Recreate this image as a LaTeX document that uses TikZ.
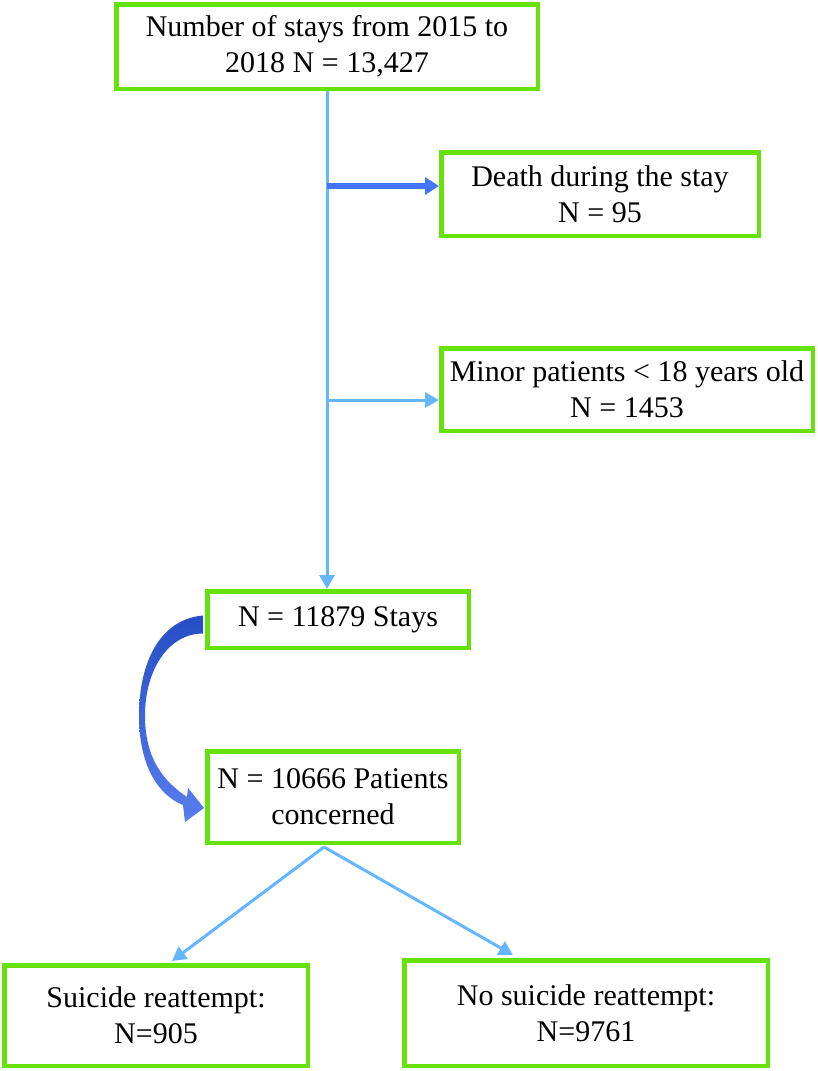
\documentclass[tikz,border=0pt]{standalone}
\usepackage{fontspec}
\setmainfont{Liberation Serif}
\usepackage{xcolor}
\definecolor{boxgreen}{RGB}{102,226,10}
\definecolor{flowblue}{RGB}{100,182,255}
\definecolor{deathblue}{RGB}{66,118,255}
\definecolor{bendblue}{RGB}{45,92,232}
\usepackage{tikz}
\usetikzlibrary{calc,arrows.meta}

\begin{document}
\begin{tikzpicture}[x=1pt, y=-1pt,
            box/.style={draw=boxgreen, line width=4.5pt, fill=white, align=center, inner sep=0pt, font=\fontsize{30}{36}\selectfont},
            flow/.style={draw=flowblue, line width=3pt, -{Triangle[length=14pt,width=15pt]}},
            deathflow/.style={draw=deathblue, line width=6pt, -{Triangle[length=14pt,width=17pt]}}]
            \useasboundingbox (0,0) rectangle (817,1071);

            % Start population
            \node[box, minimum width=421.5pt, minimum height=84.5pt] (stays0) at (327,46.5) {Number of stays from 2015 to\\2018 N = 13,427};

            % Exclusions
            \node[box, minimum width=317.5pt, minimum height=83.5pt] (death) at (600,194) {Death during the stay\\N = 95};
            \node[box, minimum width=371.5pt, minimum height=82.5pt] (minor) at (627,389.5) {Minor patients < 18 years old\\N = 1453};

            % Remaining stays and patients
            \node[box, minimum width=261.5pt, minimum height=56.5pt] (stays) at (338,619.5) {N = 11879 Stays};
            \node[box, minimum width=251.5pt, minimum height=91.5pt] (patients) at (333,797) {N = 10666 Patients\\concerned};

            % Outcome
            \node[box, minimum width=303.5pt, minimum height=100.5pt] (reatt) at (156,1015.5) {Suicide reattempt:\\N=905};
            \node[box, minimum width=363.5pt, minimum height=105.5pt] (noreatt) at (586,1013) {No suicide reattempt:\\N=9761};

            % Main line with exclusion arrows
            \draw[flow] (stays0.south) -- (stays0.south |- stays.north);
            \coordinate (dj) at (327,186);
            \coordinate (mj) at (327,400);
            \draw[deathflow] (dj) -- (dj -| death.west);
            \draw[flow] (mj) -- (mj -| minor.west);

            % Stays to patients
            \shade[top color=bendblue!85!black, bottom color=bendblue!80!white]
                ($(stays.west)+(-2,-4)$) .. controls +(-45,4) and +(0,-50) .. ($(stays.west)+(-66,96)$)
                .. controls +(0,50) and +(-25,-10) .. ($(patients.west)+(-22,8)$)
                -- ($(patients.west)+(-20,25)$) -- ($(patients.west)+(-1,11)$) -- ($(patients.west)+(-17,-9)$)
                -- ($(patients.west)+(-18,0)$)
                .. controls +(-22,-15) and +(0,45) .. ($(stays.west)+(-60,96)$)
                .. controls +(0,-45) and +(-35,0) .. ($(stays.west)+(-2,14)$) -- cycle;

            % Split by reattempt
            \draw[flow] ($(patients.south)+(-9,2)$) -- ($(reatt.north)+(16,-2)$);
            \draw[flow] ($(patients.south)+(-9,2)$) -- ($(noreatt.north)+(-73,-3)$);
\end{tikzpicture}
\end{document}
